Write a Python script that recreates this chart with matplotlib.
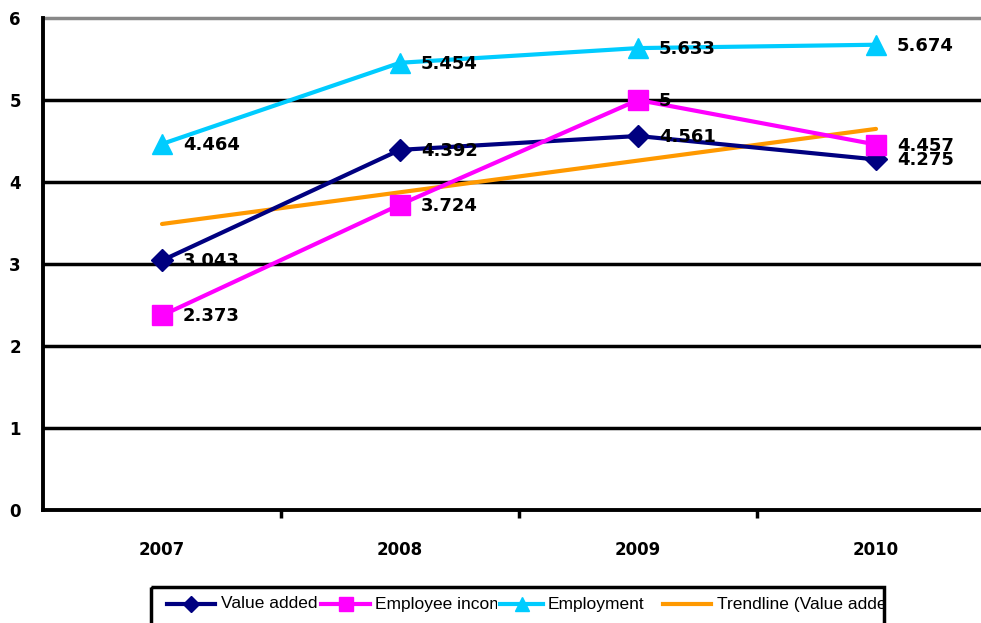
import numpy as np
import matplotlib
matplotlib.use("Agg")
import matplotlib.pyplot as plt
from matplotlib.patches import Rectangle
from matplotlib.lines import Line2D

years = ["2007", "2008", "2009", "2010"]
value_added = [3.043, 4.392, 4.561, 4.275]
employee_income = [2.373, 3.724, 5.0, 4.457]
employment = [4.464, 5.454, 5.633, 5.674]
value_labels = ["3.043", "4.392", "4.561", "4.275"]
income_labels = ["2.373", "3.724", "5", "4.457"]
employment_labels = ["4.464", "5.454", "5.633", "5.674"]
legend_labels = ["Value added", "Employee income", "Employment", "Trendline (Value added)"]

C_VA = "#000080"
C_EI = "#FF00FF"
C_EM = "#00CCFF"
C_TR = "#FF9900"

W, H = 981, 623
fig = plt.figure(figsize=(W / 100, H / 100), dpi=100)
ax = fig.add_axes([43 / W, 1 - 510 / H, 952 / W, 492 / H])

x = np.arange(len(years))

# linear trendline of value added
coef = np.polyfit(x, value_added, 1)
trend = np.polyval(coef, x)

ax.plot(x, trend, color=C_TR, lw=3, solid_capstyle="round", zorder=3)
ax.plot(x, value_added, color=C_VA, lw=3, marker="D", ms=11, zorder=4)
ax.plot(x, employee_income, color=C_EI, lw=3, marker="s", ms=14, zorder=4)
ax.plot(x, employment, color=C_EM, lw=3, marker="^", ms=14, zorder=4)

lab_font = dict(fontsize=13, fontweight="bold", color="black", va="center", ha="left")
for series, labels in ((employment, employment_labels),
                       (employee_income, income_labels),
                       (value_added, value_labels)):
    for xi, yi, t in zip(x, series, labels):
        ax.annotate(t, (xi, yi), xytext=(21, -1), textcoords="offset pixels",
                    zorder=6, **lab_font)

ax.set_xlim(-0.5, 3.5)
ax.set_ylim(0, 6)
ax.set_yticks(range(0, 7))
ax.set_yticklabels([str(v) for v in range(0, 7)], fontsize=12, fontweight="bold")
ax.set_xticks(x)
ax.set_xticklabels(years, fontsize=12, fontweight="bold")
ax.set_xticks([0.5, 1.5, 2.5], minor=True)
ax.tick_params(axis="x", which="major", length=0, pad=22)
ax.tick_params(axis="x", which="minor", length=6, width=2.5, direction="out")
ax.tick_params(axis="y", length=0, pad=16)

for yv in range(1, 6):
    ax.axhline(yv, color="black", lw=2.5, zorder=1)
ax.axhline(6, color="#888888", lw=2.5, zorder=1, clip_on=False)

for s in ("top", "right"):
    ax.spines[s].set_visible(False)
for s in ("left", "bottom"):
    ax.spines[s].set_linewidth(2.8)
    ax.spines[s].set_color("black")

# legend drawn in pixel space along the bottom edge
lax = fig.add_axes([0, 0, 1, 1], facecolor="none")
lax.set_xlim(0, W)
lax.set_ylim(H, 0)
lax.axis("off")
box = Rectangle((151, 587), 733, 60, fill=False, lw=2.5, edgecolor="black", clip_on=False)
lax.add_patch(box)
ly = 604
entries = [
    (167, 215, 221, 318, C_VA, "D", 8),
    (321, 370, 375, 497, C_EI, "s", 10),
    (500, 543, 548, 660, C_EM, "^", 10),
    (663, 711, 717, 883, C_TR, None, 0),
]
for (x0, x1, tx, tclip, col, mk, ms), lab in zip(entries, legend_labels):
    lax.add_line(Line2D([x0, x1], [ly, ly], color=col, lw=3))
    if mk:
        lax.add_line(Line2D([(x0 + x1) / 2], [ly], color=col, marker=mk, ms=ms))
    t = lax.text(tx, ly, lab, fontsize=12.5, va="center", ha="left",
                 family=["Liberation Sans Narrow", "Liberation Sans", "DejaVu Sans"])
    clip = Rectangle((tx - 2, 588), tclip - tx + 2, 40, transform=lax.transData)
    t.set_clip_on(True)
    t.set_clip_path(clip)

fig.savefig("out.png", dpi=100, facecolor="white")
